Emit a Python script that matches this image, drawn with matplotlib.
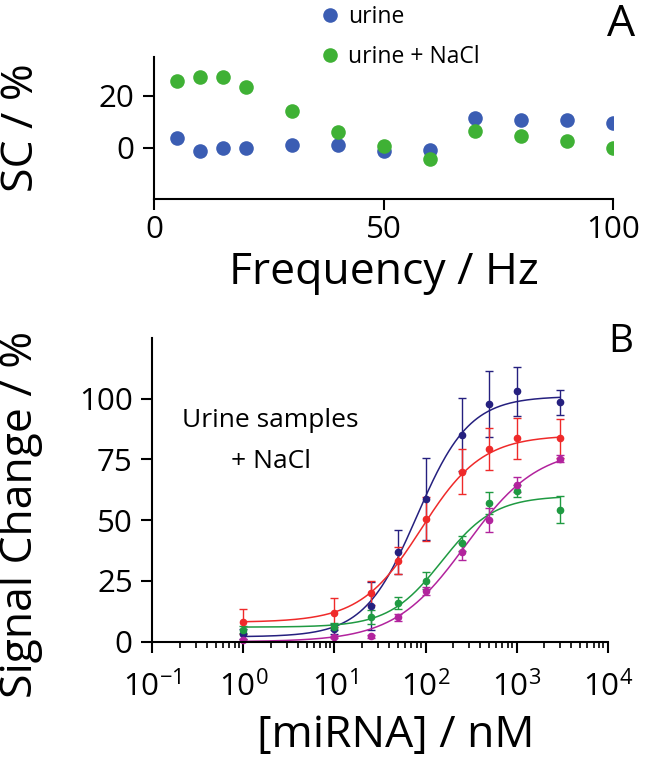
import numpy as np
import matplotlib
matplotlib.use("Agg")
import matplotlib.pyplot as plt
from matplotlib.ticker import LogLocator

plt.rcParams['font.family'] = ['Open Sans', 'DejaVu Sans']
plt.rcParams['mathtext.fontset'] = 'custom'
plt.rcParams['mathtext.rm'] = 'Open Sans'
plt.rcParams['mathtext.it'] = 'Open Sans'
plt.rcParams['mathtext.default'] = 'regular'

# ---- panel A: signal change vs frequency
freq = [5, 10, 15, 20, 30, 40, 50, 60, 70, 80, 90, 100]
sc_urine = [3.7, -1.2, 0.0, 0.0, 0.8, 0.8, -1.2, -0.9, 11.5, 10.6, 10.6, 9.5]
sc_urine_nacl = [25.5, 27.2, 27.2, 23.5, 13.9, 5.8, 0.5, -4.6, 6.3, 4.4, 2.5, 0.0]

# ---- panel B: dose response
conc = [1, 10, 25, 50, 100, 250, 500, 1000, 3000]
sig_navy = [3.2, 5.3, 14.7, 37.0, 58.8, 85.2, 97.9, 103.0, 98.5]
err_navy = [2.0, 2.0, 10.0, 9.0, 17.0, 15.0, 13.5, 10.0, 5.0]
sig_red = [8.3, 11.9, 20.0, 33.3, 50.6, 70.0, 79.3, 83.8, 83.8]
err_red = [5.0, 6.0, 5.0, 5.5, 9.0, 9.3, 8.5, 8.4, 8.0]
sig_green = [5.0, 6.2, 10.1, 16.0, 25.0, 40.5, 57.0, 62.2, 54.4]
err_green = [1.5, 1.5, 3.0, 2.5, 3.5, 3.0, 4.5, 2.5, 5.5]
sig_mag = [0.7, 2.0, 2.2, 10.1, 20.9, 37.0, 50.0, 64.6, 75.4]
err_mag = [0.5, 0.5, 0.5, 1.5, 1.5, 3.5, 5.0, 3.0, 1.5]

# logistic fit parameters: bottom, top, EC50, hill
fit_navy = [2, 101, 80, 1.5]
fit_red = [8, 85, 90, 1.3]
fit_green = [6, 60, 150, 1.5]
fit_mag = [0, 80, 280, 1.1]

c_blue = '#3b5db3'
c_green = '#3fb135'


def logistic(x, p):
    b, t, ec, h = p
    return b + (t - b) / (1 + (ec / x) ** h)


fig = plt.figure(figsize=(6.45, 7.57), dpi=100)

axA = fig.add_axes([0.2388, 0.7365, 0.712, 0.1886])
hu, = axA.plot(freq, sc_urine, 'o', color=c_blue, ms=10.5, mec='none', label='urine')
hn, = axA.plot(freq, sc_urine_nacl, 'o', color=c_green, ms=10.5, mec='none', label='urine + NaCl')
axA.set_xlim(0, 100)
axA.set_ylim(-20, 35)
axA.set_xticks([0, 50, 100])
axA.set_yticks([0, 20])
axA.set_xlabel('Frequency / Hz', fontsize=32, labelpad=4)
axA.set_ylabel('SC / %', fontsize=32)
axA.yaxis.set_label_coords(-0.24, 0.5)
fig.legend(handles=[hu, hn], loc='upper left', bbox_to_anchor=(0.5008, 0.9935),
           frameon=False, fontsize=16.5, handlelength=0.6, handletextpad=0.5,
           labelspacing=0.72, borderaxespad=0, borderpad=0)
fig.text(0.963, 0.967, 'A', fontsize=32, ha='center', va='center')

axB = fig.add_axes([0.2361, 0.1523, 0.706, 0.4012])
series = [(sig_navy, err_navy, fit_navy, '#25207f'),
          (sig_red, err_red, fit_red, '#ef2a2a'),
          (sig_green, err_green, fit_green, '#1f9a42'),
          (sig_mag, err_mag, fit_mag, '#b2239d')]
xs = np.logspace(0, np.log10(3000), 300)
for sig, err, fit, col in series:
    axB.errorbar(conc, sig, yerr=err, fmt='o', color=col, ms=4.5, elinewidth=1,
                 capsize=3, capthick=1, clip_on=False)
    axB.plot(xs, logistic(xs, fit), color=col, lw=1.1)
axB.set_xscale('log')
axB.set_xlim(0.1, 1e4)
axB.set_ylim(0, 125)
axB.set_yticks([0, 25, 50, 75, 100])
axB.xaxis.set_major_locator(LogLocator(base=10, numticks=10))
axB.xaxis.set_minor_locator(LogLocator(base=10, subs=np.arange(2, 10), numticks=10))
axB.set_xlabel('[miRNA] / nM', fontsize=32)
axB.xaxis.set_label_coords(0.534, -0.238)
axB.set_ylabel('Signal Change / %', fontsize=32)
axB.yaxis.set_label_coords(-0.24, 0.42)
axB.text(0.26, 0.707, 'Urine samples', transform=axB.transAxes,
         fontsize=19, ha='center', va='baseline')
axB.text(0.26, 0.572, '+ NaCl', transform=axB.transAxes,
         fontsize=19, ha='center', va='baseline')
fig.text(0.963, 0.548, 'B', fontsize=28, ha='center', va='center')

for ax in (axA, axB):
    for s in ('top', 'right'):
        ax.spines[s].set_visible(False)
    for s in ('left', 'bottom'):
        ax.spines[s].set_linewidth(1.5)
    ax.tick_params(which='major', length=8, width=1.5, labelsize=22.5, pad=3)
    ax.tick_params(which='minor', length=4.5, width=1.2)
    ax.tick_params(axis='y', pad=6)
axB.tick_params(axis='x', which='major', pad=13)

fig.savefig('out.png', dpi=100)
